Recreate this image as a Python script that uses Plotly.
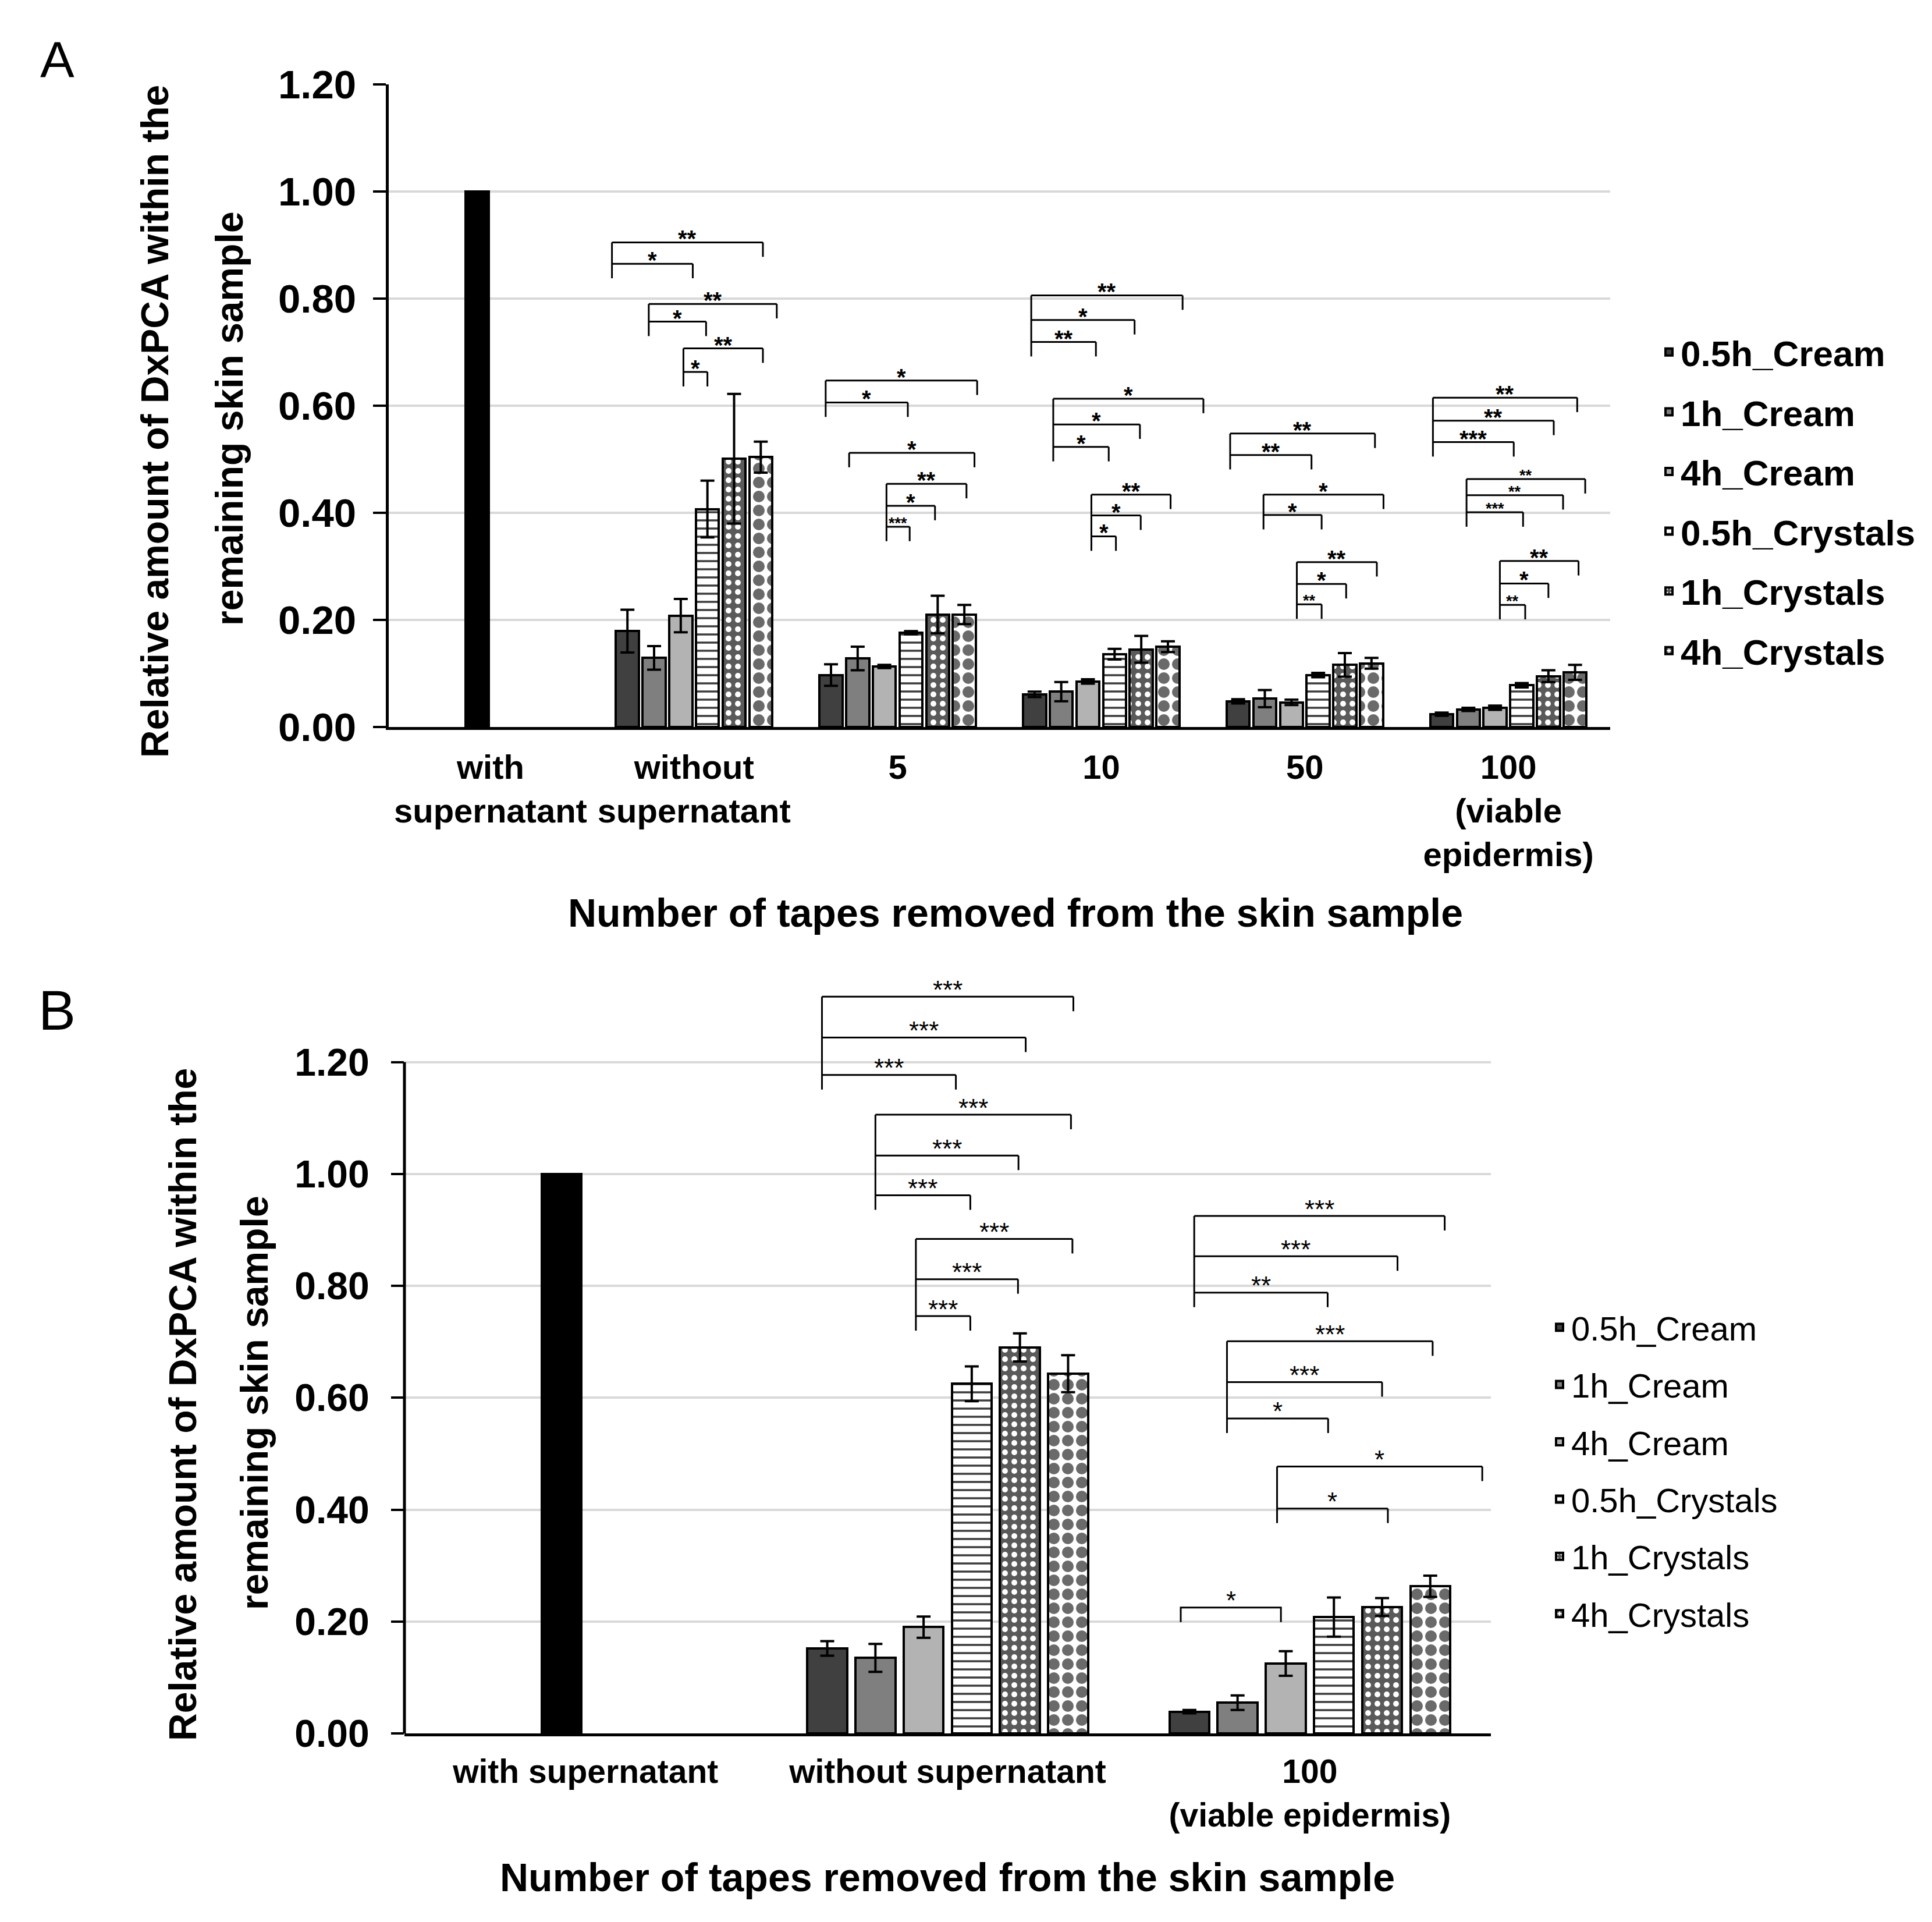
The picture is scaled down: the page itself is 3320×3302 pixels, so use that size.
import plotly.graph_objects as go

W, H = 3320, 3302
FONT = "Arial, Liberation Sans, sans-serif"

series = ["0.5h_Cream", "1h_Cream", "4h_Cream", "0.5h_Crystals", "1h_Crystals", "4h_Crystals"]

# ---------------- Panel A data ----------------
cats_A = ["with<br>supernatant", "without<br>supernatant", "5", "10", "50",
          "100<br>(viable<br>epidermis)"]
ref_A = [1.00]
cream05_A = [0.179, 0.097, 0.061, 0.048, 0.024]
cream1_A = [0.129, 0.128, 0.066, 0.053, 0.033]
cream4_A = [0.208, 0.113, 0.085, 0.046, 0.036]
cryst05_A = [0.407, 0.176, 0.136, 0.097, 0.078]
cryst1_A = [0.501, 0.210, 0.145, 0.116, 0.095]
cryst4_A = [0.504, 0.210, 0.150, 0.119, 0.102]
cream05_A_err = [0.040, 0.020, 0.005, 0.004, 0.003]
cream1_A_err = [0.022, 0.022, 0.018, 0.016, 0.003]
cream4_A_err = [0.031, 0.003, 0.004, 0.005, 0.004]
cryst05_A_err = [0.053, 0.003, 0.010, 0.004, 0.004]
cryst1_A_err = [0.121, 0.035, 0.025, 0.022, 0.011]
cryst4_A_err = [0.029, 0.018, 0.010, 0.010, 0.014]

# ---------------- Panel B data ----------------
cats_B = ["with supernatant", "without supernatant", "100<br>(viable epidermis)"]
ref_B = [1.00]
cream05_B = [0.152, 0.039]
cream1_B = [0.135, 0.055]
cream4_B = [0.190, 0.125]
cryst05_B = [0.625, 0.208]
cryst1_B = [0.690, 0.226]
cryst4_B = [0.643, 0.263]
cream05_B_err = [0.013, 0.003]
cream1_B_err = [0.025, 0.013]
cream4_B_err = [0.019, 0.022]
cryst05_B_err = [0.031, 0.035]
cryst1_B_err = [0.025, 0.016]
cryst4_B_err = [0.033, 0.019]

y_ticks = [0.0, 0.2, 0.4, 0.6, 0.8, 1.0, 1.2]

# significance brackets: (category, left slot, [(right slot, level, label, small)])
brackets_A = [
    (1, -0.58, [(5.08, 0.905, "**", False), (2.45, 0.865, "*", False)]),
    (1, 0.80, [(5.60, 0.790, "**", False), (2.95, 0.757, "*", False)]),
    (1, 2.10, [(5.08, 0.707, "**", False), (3.00, 0.663, "*", False)]),
    (2, -0.20, [(5.48, 0.647, "*", False), (2.88, 0.606, "*", False)]),
    (2, 0.68, [(5.38, 0.512, "*", False)]),
    (2, 2.08, [(5.08, 0.454, "**", False), (3.90, 0.413, "*", False), (2.95, 0.374, "***", True)]),
    (3, -0.125, [(5.55, 0.806, "**", False), (3.75, 0.760, "*", False), (2.30, 0.719, "**", False)]),
    (3, 0.70, [(6.33, 0.613, "*", False), (3.95, 0.565, "*", False), (2.78, 0.523, "*", False)]),
    (3, 2.13, [(5.10, 0.434, "**", False), (3.98, 0.395, "*", False), (3.05, 0.356, "*", False)]),
    (4, -0.30, [(5.13, 0.548, "**", False), (2.75, 0.508, "**", False)]),
    (4, 0.95, [(5.45, 0.434, "*", False), (3.13, 0.396, "*", False)]),
    (4, 2.20, [(5.20, 0.308, "**", False), (4.05, 0.267, "*", False), (3.13, 0.229, "**", True)]),
    (5, -0.33, [(5.08, 0.615, "**", False), (4.20, 0.572, "**", False), (2.70, 0.532, "***", False)]),
    (5, 0.93, [(5.38, 0.463, "**", True), (4.55, 0.433, "**", True), (3.05, 0.401, "***", True)]),
    (5, 2.18, [(5.13, 0.310, "**", False), (4.00, 0.268, "*", False), (3.13, 0.228, "**", True)]),
]
brackets_B = [
    (1, -0.11, [(5.11, 1.317, "***", False), (4.12, 1.244, "***", False), (2.67, 1.177, "***", False)]),
    (1, 1.00, [(5.06, 1.106, "***", False), (3.97, 1.033, "***", False), (2.97, 0.962, "***", False)]),
    (1, 1.84, [(5.09, 0.884, "***", False), (3.96, 0.812, "***", False), (2.97, 0.746, "***", False)]),
    (2, 0.10, [(5.30, 0.925, "***", False), (4.32, 0.853, "***", False), (2.87, 0.788, "**", False)]),
    (2, 0.78, [(5.05, 0.701, "***", False), (4.00, 0.628, "***", False), (2.88, 0.563, "*", False)]),
    (2, 1.82, [(6.08, 0.477, "*", False), (4.12, 0.402, "*", False)]),
]
single_B = [(2, -0.18, 1.90, 0.225, "*")]

styles = [
    dict(color="#404040"),
    dict(color="#7f7f7f"),
    dict(color="#b3b3b3"),
    dict(color="white", pattern=dict(shape="-", fgcolor="#3c3c3c", bgcolor="white", size=14, solidity=0.25)),
    dict(color="#5a5a5a", pattern=dict(shape=".", fgcolor="white", bgcolor="#5a5a5a", size=16, solidity=0.3)),
    dict(color="white", pattern=dict(shape=".", fgcolor="#6a6a6a", bgcolor="white", size=24, solidity=0.55)),
]

fig = go.Figure()

def px(x):
    return x / W

def py(y):
    return 1 - y / H

def add_panel(tag, xa, ya, legend, cats, ref_vals, vals, errs, slot, bw):
    fig.add_trace(go.Bar(
        x=[cats[0]], y=ref_vals, offset=(2 - 2.5) * slot - bw / 2, width=bw,
        marker=dict(color="black", line=dict(color="black", width=4)),
        showlegend=False, xaxis=xa, yaxis=ya, hoverinfo="skip"))
    for i, name in enumerate(series):
        st = styles[i]
        marker = dict(color=st["color"], line=dict(color="black", width=4))
        if "pattern" in st:
            marker["pattern"] = st["pattern"]
        fig.add_trace(go.Bar(
            x=cats[1:], y=vals[i], name=name,
            error_y=dict(type="data", array=errs[i], color="black", thickness=4, width=12),
            offset=(i - 2.5) * slot - bw / 2, width=bw, marker=marker,
            legend=legend, legendgroup=tag + str(i),
            xaxis=xa, yaxis=ya))

slotA, bwA = 0.131, 0.113
slotB, bwB = 0.133, 0.110

add_panel("A", "x", "y", "legend", cats_A, ref_A,
          [cream05_A, cream1_A, cream4_A, cryst05_A, cryst1_A, cryst4_A],
          [cream05_A_err, cream1_A_err, cream4_A_err, cryst05_A_err, cryst1_A_err, cryst4_A_err],
          slotA, bwA)
add_panel("B", "x2", "y2", "legend2", cats_B, ref_B,
          [cream05_B, cream1_B, cream4_B, cryst05_B, cryst1_B, cryst4_B],
          [cream05_B_err, cream1_B_err, cream4_B_err, cryst05_B_err, cryst1_B_err, cryst4_B_err],
          slotB, bwB)

shapes = []
annotations = []

def draw_brackets(brs, singles, xr, yr, slot, d, big, small, yshift, weight):
    for cat, ls, items in brs:
        xl = cat + (ls - 2.5) * slot
        top = max(it[1] for it in items)
        bottom = min(it[1] for it in items) - d
        shapes.append(dict(type="line", xref=xr, yref=yr, x0=xl, x1=xl, y0=top, y1=bottom,
                           line=dict(color="black", width=3)))
        for rs, lev, lab, sm in items:
            xr_ = cat + (rs - 2.5) * slot
            shapes.append(dict(type="line", xref=xr, yref=yr, x0=xl, x1=xr_, y0=lev, y1=lev,
                               line=dict(color="black", width=3)))
            shapes.append(dict(type="line", xref=xr, yref=yr, x0=xr_, x1=xr_, y0=lev, y1=lev - d,
                               line=dict(color="black", width=3)))
            annotations.append(dict(x=(xl + xr_) / 2, y=lev, xref=xr, yref=yr, text=lab,
                                    showarrow=False, yanchor="middle", yshift=yshift,
                                    font=dict(family=FONT, size=small if sm else big,
                                              color="black", weight=weight)))
    for cat, ls, rs, lev, lab in singles:
        xl = cat + (ls - 2.5) * slot
        xr_ = cat + (rs - 2.5) * slot
        shapes.append(dict(type="path", xref=xr, yref=yr,
                           path=f"M{xl},{lev - d} L{xl},{lev} L{xr_},{lev} L{xr_},{lev - d}",
                           line=dict(color="black", width=3)))
        annotations.append(dict(x=(xl + xr_) / 2, y=lev, xref=xr, yref=yr, text=lab,
                                showarrow=False, yanchor="middle", yshift=yshift,
                                font=dict(family=FONT, size=big, color="black", weight=weight)))

draw_brackets(brackets_A, [], "x", "y", slotA, 0.027, 40, 27, 6, "bold")
draw_brackets(brackets_B, single_B, "x2", "y2", slotB, 0.026, 44, 30, 12, "normal")

# panel geometry (paper)
A_x = [px(668), px(2767)]
A_y = [py(1249), py(145)]
B_x = [px(695), px(2562)]
B_y = [py(2978), py(1671)]
B_top = 1.36

# B y-axis line only up to 1.20
shapes.append(dict(type="line", xref="paper", yref="paper", x0=B_x[0], x1=B_x[0],
                   y0=B_y[0], y1=B_y[0] + (B_y[1] - B_y[0]) * 1.2 / B_top,
                   line=dict(color="black", width=5)))

def txt(x, y, text, size, weight="bold", angle=0):
    annotations.append(dict(x=px(x), y=py(y), xref="paper", yref="paper", text=text,
                            showarrow=False, textangle=angle, xanchor="center", yanchor="middle",
                            font=dict(family=FONT, size=size, color="black", weight=weight)))

txt(98, 103, "A", 88, "normal")
txt(98, 1735, "B", 96, "normal")
txt(266, 724, "Relative amount of DxPCA within the", 66, angle=-90)
txt(394, 719, "remaining skin sample", 66, angle=-90)
txt(1745, 1568, "Number of tapes removed from the skin sample", 68)
txt(314, 2413, "Relative amount of DxPCA within the", 66, angle=-90)
txt(437, 2410, "remaining skin sample", 66, angle=-90)
txt(1628, 3225, "Number of tapes removed from the skin sample", 68)

def yaxis_common(size, standoff):
    return dict(tickvals=y_ticks, tickformat=".2f", ticks="outside", ticklen=22, tickwidth=4,
                tickcolor="black", gridcolor="#d9d9d9", gridwidth=4, zeroline=False,
                ticklabelstandoff=standoff, automargin=False,
                tickfont=dict(family=FONT, size=size, color="black", weight="bold"))

fig.update_layout(
    template="none",
    width=W, height=H, autosize=False,
    margin=dict(l=0, r=0, t=0, b=0, pad=0, autoexpand=False),
    paper_bgcolor="white", plot_bgcolor="white",
    barmode="overlay", bargap=0,
    showlegend=True,
    xaxis=dict(domain=A_x, anchor="y", type="category", categoryarray=cats_A,
               categoryorder="array", range=[-0.5, 5.5], showline=True, linewidth=5,
               linecolor="black", ticks="", showgrid=False, ticklabelstandoff=14, automargin=False,
               tickfont=dict(family=FONT, size=58, color="black", weight="bold")),
    yaxis=dict(domain=A_y, anchor="x", range=[0, 1.2], showline=True, linewidth=5,
               linecolor="black", **yaxis_common(69, 15)),
    xaxis2=dict(domain=B_x, anchor="y2", type="category", categoryarray=cats_B,
                categoryorder="array", range=[-0.5, 2.5], showline=True, linewidth=5,
                linecolor="black", ticks="", showgrid=False, ticklabelstandoff=12, automargin=False,
                tickfont=dict(family=FONT, size=57, color="black", weight="bold")),
    yaxis2=dict(domain=B_y, anchor="x2", range=[0, B_top], showline=False, **yaxis_common(66, 24)),
    legend=dict(x=px(2848), y=py(558), xanchor="left", yanchor="top",
                tracegroupgap=19, bgcolor="rgba(0,0,0,0)", borderwidth=0,
                font=dict(family=FONT, size=62, color="black", weight="bold")),
    legend2=dict(x=px(2660), y=py(2236), xanchor="left", yanchor="top",
                 tracegroupgap=20, bgcolor="rgba(0,0,0,0)", borderwidth=0,
                 font=dict(family=FONT, size=58, color="black", weight="normal")),
    shapes=shapes,
    annotations=annotations,
)

fig.write_html("out.html", config={"displayModeBar": False},
               post_script="document.body.style.margin='0';")
